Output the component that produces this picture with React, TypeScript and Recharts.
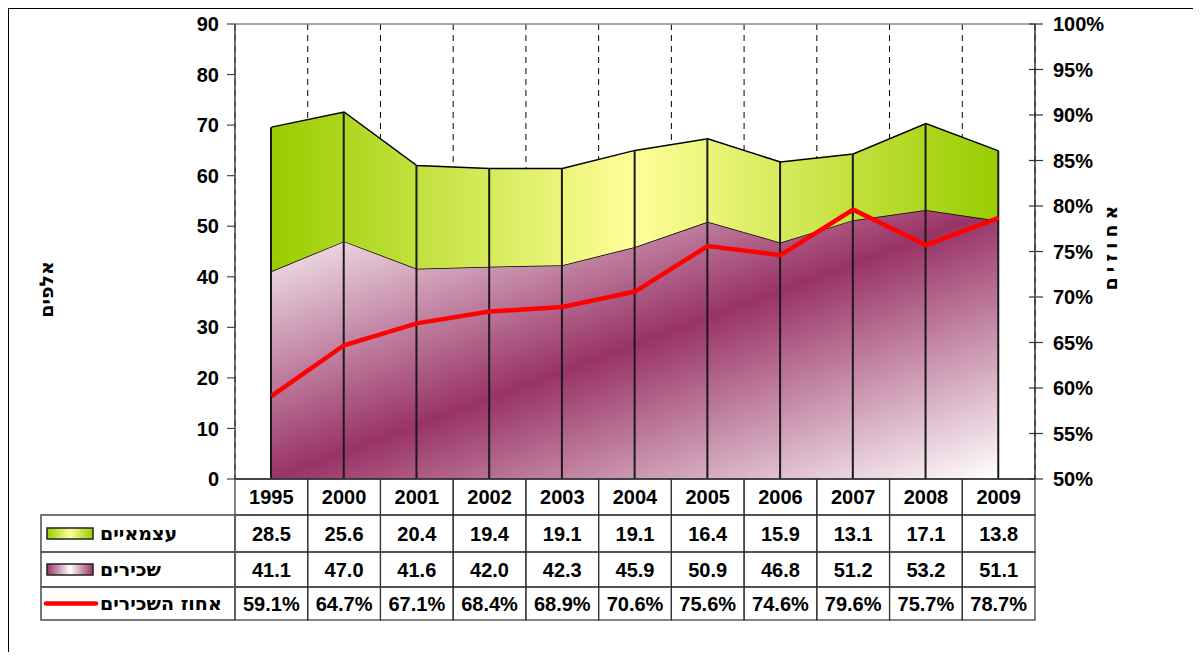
import React from "react";
import {
  Area,
  Bar,
  CartesianGrid,
  ComposedChart,
  Line,
  ReferenceLine,
  XAxis,
  YAxis,
} from "recharts";

const years = ["1995", "2000", "2001", "2002", "2003", "2004", "2005", "2006", "2007", "2008", "2009"];
const selfEmployed = [28.5, 25.6, 20.4, 19.4, 19.1, 19.1, 16.4, 15.9, 13.1, 17.1, 13.8];
const employees = [41.1, 47.0, 41.6, 42.0, 42.3, 45.9, 50.9, 46.8, 51.2, 53.2, 51.1];
const employeeShare = [59.1, 64.7, 67.1, 68.4, 68.9, 70.6, 75.6, 74.6, 79.6, 75.7, 78.7];
const leftTicks = [0, 10, 20, 30, 40, 50, 60, 70, 80, 90];
const rightTicks = [50, 55, 60, 65, 70, 75, 80, 85, 90, 95, 100];
const boundaryTicks = [1, 2, 3, 4, 5, 6, 7, 8, 9, 10];

const seriesNames = ["עצמאיים", "שכירים", "אחוז השכירים"];

const rows = years.map((year, i) => ({
  year,
  slot: i + 0.5,
  employees: employees[i],
  selfEmployed: selfEmployed[i],
  total: +(employees[i] + selfEmployed[i]).toFixed(1),
  share: employeeShare[i],
}));

const FONT = '"Liberation Sans", Arial, sans-serif';
const HEB_FONT = '"DejaVu Sans", "Liberation Sans", sans-serif';
const PLOT_W = 800;
const BW = PLOT_W / years.length;
const ROW_H = [36, 37, 35, 33];
const LEGEND_W = 194;

const TableTick = (props: any) => {
  const { x, y, payload } = props;
  const i = years.indexOf(payload.value);
  const left = x - BW / 2;
  const tops = ROW_H.map((_, r) => y + ROW_H.slice(0, r).reduce((a, b) => a + b, 0));
  const cells = [
    payload.value,
    selfEmployed[i].toFixed(1),
    employees[i].toFixed(1),
    employeeShare[i].toFixed(1) + "%",
  ];
  const legendLeft = left - LEGEND_W;
  return (
    <g>
      {cells.map((c, r) => (
        <g key={r}>
          <rect x={left} y={tops[r]} width={BW} height={ROW_H[r]} fill="none" stroke="#333" strokeWidth={1.2} />
          <text
            x={x}
            y={tops[r] + ROW_H[r] / 2}
            dy="0.36em"
            textAnchor="middle"
            fontSize={20}
            fontWeight={700}
            fontFamily={FONT}
            fill="#000"
          >
            {c}
          </text>
        </g>
      ))}
      {i === 0 &&
        [1, 2, 3].map((r) => {
          const mid = tops[r] + ROW_H[r] / 2;
          return (
            <g key={"lg" + r}>
              <rect x={legendLeft} y={tops[r]} width={LEGEND_W} height={ROW_H[r]} fill="none" stroke="#555" strokeWidth={1.6} />
              {r === 1 && (
                <rect x={legendLeft + 6} y={mid - 5.5} width={46} height={11} fill="url(#greenKey)" stroke="#222" strokeWidth={1.5} />
              )}
              {r === 2 && (
                <rect x={legendLeft + 6} y={mid - 5.5} width={46} height={11} fill="url(#maroonKey)" stroke="#222" strokeWidth={1.5} />
              )}
              {r === 3 && (
                <line x1={legendLeft + 5} x2={legendLeft + 55} y1={mid} y2={mid} stroke="#ff0000" strokeWidth={4.5} strokeLinecap="round" />
              )}
              <text
                x={legendLeft + 59}
                y={mid}
                dy="0.36em"
                textAnchor="start"
                fontSize={19}
                fontWeight={700}
                fontFamily={HEB_FONT}
                fill="#000"
              >
                {seriesNames[r - 1]}
              </text>
            </g>
          );
        })}
    </g>
  );
};

const RightTick = (props: any) => {
  const { x, y, payload } = props;
  const axisX = x - 18;
  return (
    <g>
      <line x1={axisX - 6} x2={axisX + 8} y1={y} y2={y} stroke="#333" strokeWidth={1.2} />
      <text x={x} y={y} dy="0.36em" textAnchor="start" fontSize={20} fontWeight={700} fontFamily={FONT} fill="#000">
        {payload.value + "%"}
      </text>
    </g>
  );
};

const AxisTitle = (p: any) => {
  const vb = p.viewBox || { x: 0, y: 0, width: 0, height: 0 };
  const cx = vb.x + p.dx;
  const cy = vb.y + vb.height / 2 + p.dy;
  return (
    <text
      x={cx}
      y={cy}
      transform={`rotate(-90 ${cx} ${cy})`}
      textAnchor="middle"
      dominantBaseline="central"
      fontSize={19}
      fontWeight={700}
      fontFamily={HEB_FONT}
      letterSpacing={p.spacing}
      fill="#000"
    >
      {p.text}
    </text>
  );
};

export default function App() {
  return (
    <div style={{ position: "relative", width: 1185, height: 644 }}>
      <div
        style={{
          position: "absolute",
          left: -1,
          top: -1,
          width: 1194,
          height: 653,
          borderTop: "2px solid #000",
          borderLeft: "2px solid #000",
          boxSizing: "border-box",
        }}
      />
      <ComposedChart
        width={1185}
        height={644}
        data={rows}
        margin={{ top: 16, left: 37, right: 8, bottom: 28 }}
      >
        <defs>
          <linearGradient id="greenFill" x1="0" y1="0" x2="1" y2="0">
            <stop offset="0" stopColor="#99cc00" />
            <stop offset="0.5" stopColor="#ffff99" />
            <stop offset="1" stopColor="#99cc00" />
          </linearGradient>
          <linearGradient id="maroonFill" x1="0" y1="0" x2="1" y2="1">
            <stop offset="0" stopColor="#ffffff" />
            <stop offset="0.5" stopColor="#993366" />
            <stop offset="1" stopColor="#ffffff" />
          </linearGradient>
          <linearGradient id="greenKey" x1="0" y1="0" x2="1" y2="0">
            <stop offset="0" stopColor="#99cc00" />
            <stop offset="0.5" stopColor="#ffff99" />
            <stop offset="1" stopColor="#99cc00" />
          </linearGradient>
          <linearGradient id="maroonKey" x1="0" y1="0" x2="1" y2="0">
            <stop offset="0" stopColor="#993366" />
            <stop offset="0.5" stopColor="#ffffff" />
            <stop offset="1" stopColor="#993366" />
          </linearGradient>
        </defs>

        <XAxis
          dataKey="year"
          height={145}
          interval={0}
          tickLine={false}
          tickSize={0}
          tickMargin={0}
          axisLine={{ stroke: "#333", strokeWidth: 1.5 }}
          tick={<TableTick />}
        />
        <XAxis xAxisId="grid" type="number" dataKey="slot" domain={[0, 11]} ticks={boundaryTicks} hide />
        <YAxis
          yAxisId="left"
          width={190}
          domain={[0, 90]}
          ticks={leftTicks}
          interval={0}
          tickSize={8}
          tickMargin={8}
          axisLine={{ stroke: "#444", strokeWidth: 1.5 }}
          tickLine={{ stroke: "#444", strokeWidth: 1.2 }}
          tick={{ fontSize: 20, fontWeight: 700, fill: "#000", fontFamily: FONT }}
          label={{ content: (p: any) => <AxisTitle {...p} text="אלפים" dx={1} dy={38} spacing={0} /> }}
        />
        <YAxis
          yAxisId="right"
          orientation="right"
          width={150}
          domain={[50, 100]}
          ticks={rightTicks}
          interval={0}
          tickSize={8}
          tickMargin={10}
          tickLine={false}
          axisLine={{ stroke: "#333", strokeWidth: 1.5 }}
          tick={<RightTick />}
          label={{ content: (p: any) => <AxisTitle {...p} text="אחוזים" dx={75} dy={-6} spacing={5} /> }}
        />

        <CartesianGrid
          xAxisId="grid"
          yAxisId="left"
          horizontal={false}
          vertical
          stroke="#000"
          strokeDasharray="6 5"
        />
        <ReferenceLine yAxisId="left" y={90} stroke="#888" strokeWidth={1.5} />

        <Area
          yAxisId="left"
          type="linear"
          dataKey="employees"
          stackId="a"
          stroke="#000"
          strokeWidth={1.5}
          fill="url(#maroonFill)"
          fillOpacity={1}
          isAnimationActive={false}
        />
        <Area
          yAxisId="left"
          type="linear"
          dataKey="selfEmployed"
          stackId="a"
          stroke="#000"
          strokeWidth={1.5}
          fill="url(#greenFill)"
          fillOpacity={1}
          isAnimationActive={false}
        />
        <Bar yAxisId="left" dataKey="total" barSize={2} fill="#1a1a1a" isAnimationActive={false} />
        <Line
          yAxisId="right"
          type="linear"
          dataKey="share"
          stroke="#ff0000"
          strokeWidth={4.5}
          dot={false}
          activeDot={false}
          isAnimationActive={false}
        />
      </ComposedChart>
    </div>
  );
}
